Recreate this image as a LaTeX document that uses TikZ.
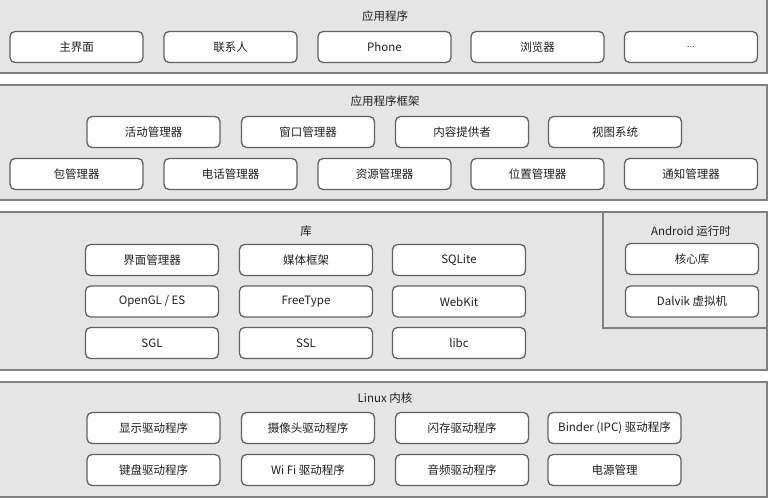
\documentclass[tikz,border=0pt]{standalone}
\usepackage{fontspec}
\setmainfont{Noto Sans CJK SC}
\newfontfamily\latinsans{Liberation Sans}
\begin{document}
\begin{tikzpicture}[x=1pt,y=-1pt,
  panel/.style={draw=black!50,line width=1.6pt,fill=black!10},
  box/.style={draw=black!62,line width=1.3pt,fill=white,rounded corners=5pt,
    minimum width=133pt,minimum height=31pt,inner sep=0pt,anchor=center,
    font=\fontsize{11.5}{12}\selectfont,text=black!88},
  ttl/.style={font=\fontsize{11.5}{12}\selectfont,text=black!88,inner sep=0pt}]
\useasboundingbox (0,0) rectangle (770,500);
% panels
\draw[panel] (-3,-3) rectangle (767,73);
\draw[panel] (-3,85) rectangle (767,200);
\draw[panel] (-3,212) rectangle (767,370);
\draw[panel] (603,212) rectangle (767,328);
\draw[panel] (-3,382) rectangle (767,497);
% titles
\node[ttl] (t1) at (385,16) {应用程序};
\node[ttl] (t2) at (385,101) {应用程序框架};
\node[ttl] (t3) at (306,231) {库};
\node[ttl] (t4) at (691,231) {Android 运行时};
\node[ttl] (t5) at (385,398) {Linux 内核};
% layer 1
\node[box] (a1) at (76.5,47) {主界面};
\node[box] (a2) at (230.5,47) {联系人};
\node[box] (a3) at (384.5,47) {Phone};
\node[box] (a4) at (537.5,47) {浏览器};
\node[box] (a5) at (691,47) {\latinsans\fontsize{10}{12}\selectfont ...};
% layer 2
\node[box] (b1) at (153.5,132) {活动管理器};
\node[box] (b2) at (308,132) {窗口管理器};
\node[box] (b3) at (462,132) {内容提供者};
\node[box] (b4) at (615,132) {视图系统};
\node[box] (b5) at (76.5,174) {包管理器};
\node[box] (b6) at (230.5,174) {电话管理器};
\node[box] (b7) at (384.5,174) {资源管理器};
\node[box] (b8) at (537.5,174) {位置管理器};
\node[box] (b9) at (691,174) {通知管理器};
% layer 3
\node[box] (c1) at (152,260) {界面管理器};
\node[box] (c2) at (306,260) {媒体框架};
\node[box] (c3) at (459,260) {SQLite};
\node[box] (c4) at (152,301.5) {OpenGL / ES};
\node[box] (c5) at (306,301.5) {FreeType};
\node[box] (c6) at (459,301.5) {WebKit};
\node[box] (c7) at (152,343) {SGL};
\node[box] (c8) at (306,343) {SSL};
\node[box] (c9) at (459,343) {libc};
\node[box] (d1) at (692,259) {核心库};
\node[box] (d2) at (692,301.5) {Dalvik 虚拟机};
% layer 4
\node[box] (e1) at (153.5,428) {显示驱动程序};
\node[box] (e2) at (308,428) {摄像头驱动程序};
\node[box] (e3) at (462,428) {闪存驱动程序};
\node[box] (e4) at (614.5,428) {Binder (IPC) 驱动程序};
\node[box] (e5) at (153.5,470) {键盘驱动程序};
\node[box] (e6) at (308,470) {Wi Fi 驱动程序};
\node[box] (e7) at (462,470) {音频驱动程序};
\node[box] (e8) at (614.5,470) {电源管理};
\end{tikzpicture}
\end{document}
